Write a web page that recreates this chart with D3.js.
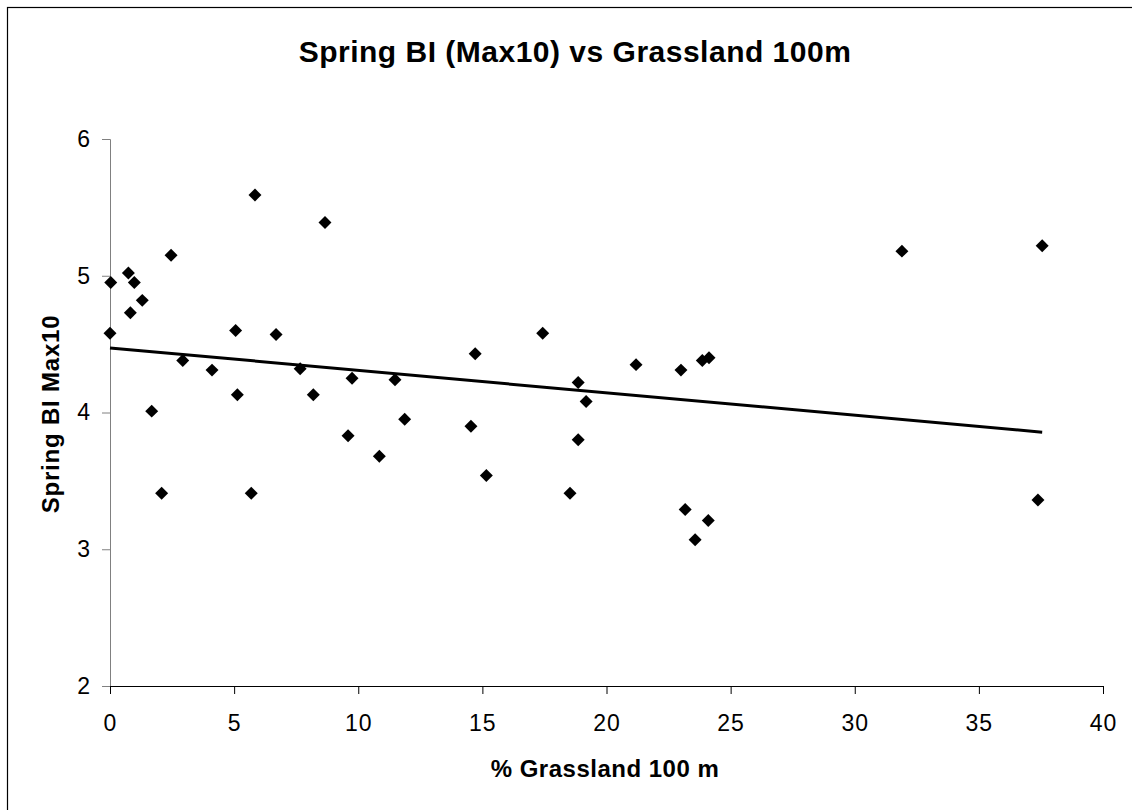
<!DOCTYPE html>
<html>
<head>
<meta charset="utf-8">
<script src="https://cdn.jsdelivr.net/npm/d3@7"></script>
<style>
  html, body { margin: 0; padding: 0; background: #fff; }
  svg { display: block; font-family: "Liberation Sans", Arial, sans-serif; }
</style>
</head>
<body>
<div id="chart"></div>
<script>
// % grassland within 100 m
const grass = [
  0.03, 0.00, 0.74, 0.98, 0.82, 1.30, 1.68, 2.08, 2.46, 2.93,
  4.11, 5.06, 5.13, 5.69, 5.84, 6.69, 7.66, 8.19, 8.66, 9.59,
  9.75, 10.85, 11.48, 11.87, 14.54, 14.71, 15.16, 17.43, 18.53, 18.86,
  18.86, 19.18, 21.19, 23.00, 23.17, 23.57, 23.86, 24.10, 24.13, 31.90,
  37.38, 37.55
];
// spring BI (max10)
const springBI = [
  4.95, 4.58, 5.02, 4.95, 4.73, 4.82, 4.01, 3.41, 5.15, 4.38,
  4.31, 4.60, 4.13, 3.41, 5.59, 4.57, 4.32, 4.13, 5.39, 3.83,
  4.25, 3.68, 4.24, 3.95, 3.90, 4.43, 3.54, 4.58, 3.41, 4.22,
  3.80, 4.08, 4.35, 4.31, 3.29, 3.07, 4.38, 3.21, 4.40, 5.18,
  3.36, 5.22
];
const xTicks = [0, 5, 10, 15, 20, 25, 30, 35, 40];
const yTicks = [2, 3, 4, 5, 6];

const width = 1132, height = 810;
const margin = { top: 139, right: 29, bottom: 124, left: 110 };

const svg = d3.select("#chart").append("svg")
  .attr("width", width)
  .attr("height", height);

// chart area border (only top/left edges fall inside the frame)
svg.append("rect")
  .attr("x", 7.5).attr("y", 7.5)
  .attr("width", width).attr("height", height)
  .attr("fill", "none")
  .attr("stroke", "#000")
  .attr("stroke-width", 1.2);

const x = d3.scaleLinear().domain([0, 40]).range([margin.left, width - margin.right]);
const y = d3.scaleLinear().domain([2, 6]).range([height - margin.bottom, margin.top]);

// axes
const yAxis = svg.append("g")
  .attr("transform", `translate(${margin.left},0)`)
  .call(d3.axisLeft(y).tickValues(yTicks).tickSize(8).tickPadding(11).tickFormat(d3.format("d")));
yAxis.select(".domain").attr("stroke", "#808080");
yAxis.selectAll(".tick line").attr("stroke", "#808080");

const xAxis = svg.append("g")
  .attr("transform", `translate(0,${y(2)})`)
  .call(d3.axisBottom(x).tickValues(xTicks).tickSize(8).tickPadding(21).tickFormat(d3.format("d")));
xAxis.select(".domain").attr("stroke", "#000");

svg.selectAll(".tick text")
  .attr("font-size", 23)
  .attr("letter-spacing", 1)
  .attr("font-family", "Liberation Sans, Arial, sans-serif")
  .attr("fill", "#000");

// points
const pts = grass.map((g, i) => ({ x: g, y: springBI[i] }));

svg.append("g").selectAll("path")
  .data(pts)
  .join("path")
  .attr("d", d3.symbol().type(d3.symbolSquare).size(84))
  .attr("transform", d => `translate(${x(d.x)},${y(d.y)}) rotate(45)`)
  .attr("fill", "#000");

// linear trendline (least squares)
const mx = d3.mean(grass), my = d3.mean(springBI);
const slope = d3.sum(pts, d => (d.x - mx) * (d.y - my)) / d3.sum(pts, d => (d.x - mx) ** 2);
const intercept = my - slope * mx;
const xEnds = d3.extent(grass);

svg.append("line")
  .attr("x1", x(xEnds[0])).attr("y1", y(intercept + slope * xEnds[0]))
  .attr("x2", x(xEnds[1])).attr("y2", y(intercept + slope * xEnds[1]))
  .attr("stroke", "#000")
  .attr("stroke-width", 3);

// titles
svg.append("text")
  .attr("x", 575).attr("y", 62)
  .attr("text-anchor", "middle")
  .attr("font-size", 30)
  .attr("letter-spacing", 0.5)
  .attr("font-weight", "bold")
  .text("Spring BI (Max10) vs Grassland 100m");

svg.append("text")
  .attr("x", 605).attr("y", 777)
  .attr("text-anchor", "middle")
  .attr("font-size", 24)
  .attr("letter-spacing", 0.5)
  .attr("font-weight", "bold")
  .text("% Grassland 100 m");

svg.append("text")
  .attr("transform", "translate(59,414) rotate(-90)")
  .attr("text-anchor", "middle")
  .attr("font-size", 24)
  .attr("letter-spacing", 0.8)
  .attr("font-weight", "bold")
  .text("Spring BI Max10");
</script>
</body>
</html>
